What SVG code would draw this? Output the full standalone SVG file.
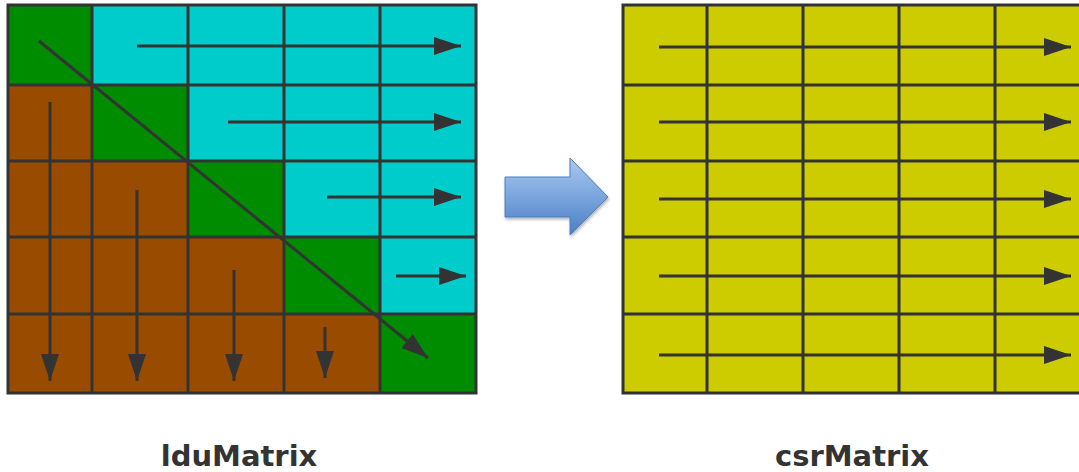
<svg xmlns="http://www.w3.org/2000/svg" width="1079" height="472" viewBox="0 0 1079 472">
<style>
.g{fill:#008c00}.c{fill:#00cccc}.b{fill:#994c00}.y{fill:#cccc00}
.grid{stroke:#333;stroke-width:3;fill:none}
.arr{stroke:#333;stroke-width:3;fill:none;marker-end:url(#ah)}
.lbl{font-family:"DejaVu Sans",sans-serif;font-weight:bold;font-size:29px;fill:#333;text-anchor:middle}
</style>
<defs>
<marker id="ah" markerUnits="userSpaceOnUse" markerWidth="30" markerHeight="20" refX="27" refY="9" orient="auto">
<path d="M0,0 L27,9 L0,18 Z" fill="#333"/>
</marker>
<linearGradient id="bg" x1="0" y1="0" x2="0" y2="1">
<stop offset="0" stop-color="#a9c8f0"/>
<stop offset="0.5" stop-color="#7aa5dc"/>
<stop offset="1" stop-color="#4a7fc4"/>
</linearGradient>
<filter id="sh" x="-20%" y="-20%" width="150%" height="150%">
<feDropShadow dx="1" dy="2" stdDeviation="1.5" flood-color="#000" flood-opacity="0.3"/>
</filter>
</defs>
<g id="lduMatrix">
<rect class="g" x="8" y="5" width="84" height="80"/>
<rect class="c" x="92" y="5" width="384" height="80"/>
<rect class="b" x="8" y="85" width="84" height="76"/>
<rect class="g" x="92" y="85" width="96" height="76"/>
<rect class="c" x="188" y="85" width="288" height="76"/>
<rect class="b" x="8" y="161" width="180" height="76"/>
<rect class="g" x="188" y="161" width="96" height="76"/>
<rect class="c" x="284" y="161" width="192" height="76"/>
<rect class="b" x="8" y="237" width="276" height="77"/>
<rect class="g" x="284" y="237" width="96" height="77"/>
<rect class="c" x="380" y="237" width="96" height="77"/>
<rect class="b" x="8" y="314" width="372" height="79"/>
<rect class="g" x="380" y="314" width="96" height="79"/>
<path class="grid" d="M8,5H476V393H8Z M92,5V393 M188,5V393 M284,5V393 M380,5V393 M8,85H476 M8,161H476 M8,237H476 M8,314H476"/>
</g>
<g id="csrMatrix">
<rect class="y" x="623" y="5" width="460" height="388"/>
<path class="grid" d="M1085,5H623V393H1085 M707,5V393 M803,5V393 M899,5V393 M995,5V393 M623,85H1085 M623,161H1085 M623,237H1085 M623,314H1085"/>
</g>
<g id="transform-arrow">
<polygon points="505,177 570,177 570,158 608,197 570,235 570,217 505,217" fill="url(#bg)" stroke="#4f7fbf" stroke-width="1" filter="url(#sh)"/>
</g>
<g id="connectors">
<line class="arr" x1="137" y1="46" x2="461" y2="46"/>
<line class="arr" x1="228" y1="122" x2="461" y2="122"/>
<line class="arr" x1="327" y1="197" x2="461" y2="197"/>
<line class="arr" x1="396" y1="276" x2="466" y2="276"/>
<line class="arr" x1="50" y1="102" x2="50" y2="381"/>
<line class="arr" x1="137" y1="190" x2="137" y2="381"/>
<line class="arr" x1="234" y1="270" x2="234" y2="381"/>
<line class="arr" x1="325" y1="327" x2="325" y2="378"/>
<line class="arr" x1="39" y1="41" x2="428" y2="358"/>
<line class="arr" x1="659" y1="47" x2="1071" y2="47"/>
<line class="arr" x1="659" y1="122" x2="1071" y2="122"/>
<line class="arr" x1="659" y1="199" x2="1071" y2="199"/>
<line class="arr" x1="659" y1="276" x2="1071" y2="276"/>
<line class="arr" x1="659" y1="355" x2="1071" y2="355"/>
</g>
<text class="lbl" x="239" y="466">lduMatrix</text>
<text class="lbl" x="852" y="466">csrMatrix</text>
</svg>
